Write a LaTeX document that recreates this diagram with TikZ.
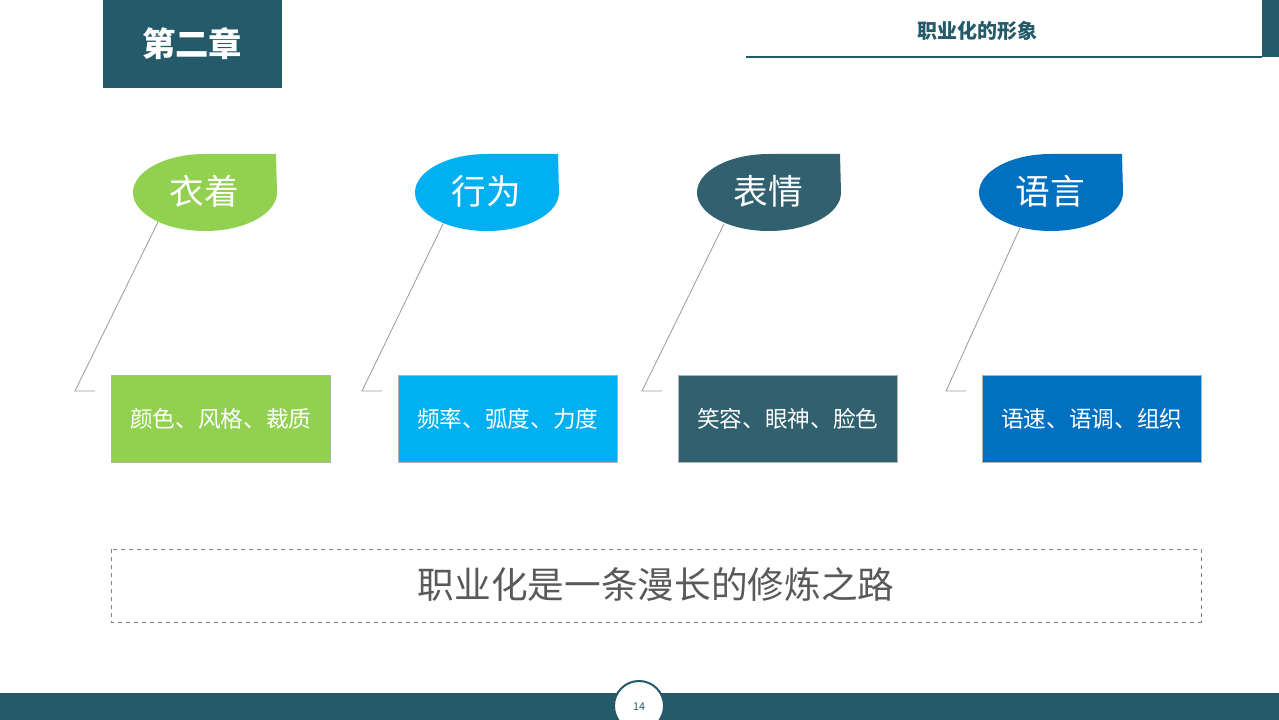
\documentclass[tikz,border=0pt]{standalone}
\usepackage{fontspec}
\newfontfamily\cjk{Noto Sans CJK SC}
\definecolor{teal}{HTML}{245A69}
\definecolor{cA}{HTML}{92D050}
\definecolor{cB}{HTML}{00B0F0}
\definecolor{cC}{HTML}{31606E}
\definecolor{cD}{HTML}{0070C0}
\begin{document}
\begin{tikzpicture}[x=0.75pt,y=-0.75pt,
  leader/.style={draw=gray!80,line width=0.6pt},
  boxtxt/.style={font=\cjk\fontsize{17}{20}\selectfont,text=white}]
\useasboundingbox (0,0) rectangle (1279,720);
\fill[teal] (103,0) rectangle (282,88);
\node[font=\cjk\bfseries\fontsize{25}{28}\selectfont,text=white] (ch) at (192,44) {第二章};
\node[font=\cjk\bfseries\fontsize{15}{18}\selectfont,text=teal] (tt) at (977,31) {职业化的形象};
\draw[teal,line width=0.8pt] (746,57) -- (1262,57);
\fill[teal] (1262,0) rectangle (1279,57);
\foreach \i/\bx/\ux/\col/\t/\s/\sx/\sy in {0/133/111/cA/衣着/颜色、风格、裁质/25/222,1/415/398/cB/行为/频率、弧度、力度/28/224,2/697/678/cC/表情/笑容、眼神、脸色/27/224,3/979/982/cD/语言/语速、语调、组织/41/228}{
  \fill[\col] (\bx+143,154) -- (\bx+72,154) arc[start angle=-90,end angle=-360,x radius=72,y radius=38.5] -- cycle;
  \node[font=\cjk\fontsize{26}{29}\selectfont,text=white] (b\i) at (\bx+71,191) {\t};
  \node[fill=\col,draw=gray!60,minimum width=219*0.75pt,minimum height=87*0.75pt,anchor=north west,inner sep=0pt,boxtxt] (u\i) at (\ux,375) {\s};
  \coordinate (s\i) at (\bx+\sx,\sy);
  \coordinate (e\i) at (\ux-36,391);
  \draw[leader] (s\i) -- (e\i) -- ++(20,0);
}
\draw[gray,dashed,line width=0.6pt] (111,549) rectangle (1201,622);
\node[font=\cjk\fontsize{27.5}{30}\selectfont,text=black!65] (m) at (656,585) {职业化是一条漫长的修炼之路};
\fill[teal] (0,693) rectangle (1279,720);
\draw[teal,fill=white,line width=1.5pt] (639,706) circle[radius=25];
\node[font=\cjk\fontsize{8}{9}\selectfont,text=teal] (pg) at (639,707) {14};
\end{tikzpicture}
\end{document}
